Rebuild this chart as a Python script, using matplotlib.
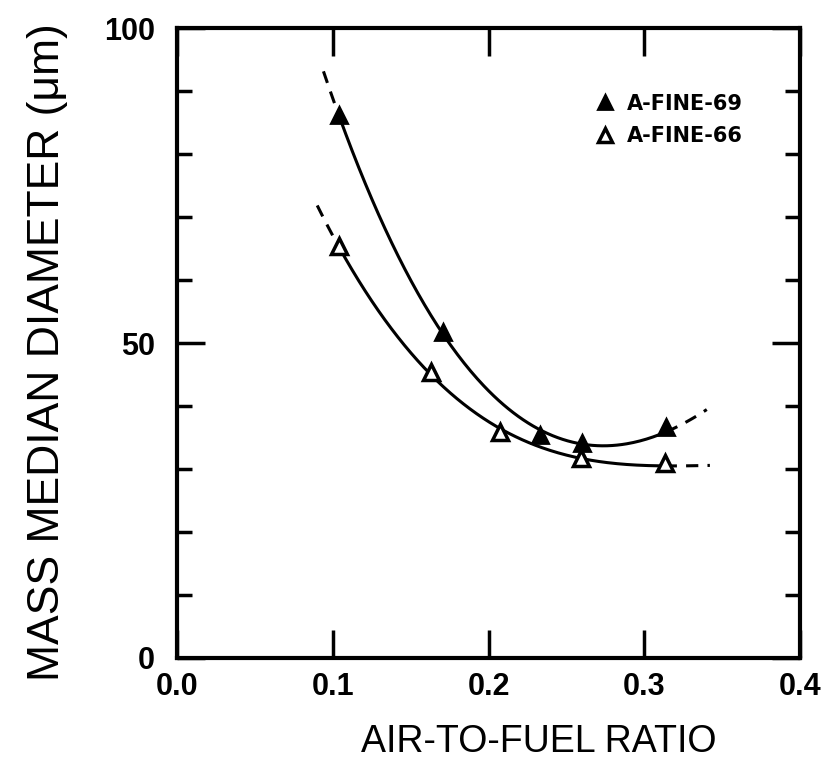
import numpy as np
import matplotlib
matplotlib.use("Agg")
import matplotlib.pyplot as plt
from matplotlib.ticker import MultipleLocator

plt.rcParams['font.family'] = ['Liberation Sans', 'DejaVu Sans']

# data
x69 = [0.104, 0.171, 0.233, 0.260, 0.314]
y69 = [86.2, 51.8, 35.4, 34.1, 36.7]
x66 = [0.104, 0.163, 0.207, 0.259, 0.313]
y66 = [65.5, 45.4, 35.9, 31.7, 31.0]
# ends of the dashed extensions (x, y)
ext69_x = [0.094, 0.340]
ext69_y = [93.0, 39.0]
ext66_x = [0.090, 0.342]
ext66_y = [71.6, 30.3]
labels = ['A-FINE-69', 'A-FINE-66']

fig = plt.figure(figsize=(8.31, 7.66), dpi=100)
ax = fig.add_axes([0.213, 0.141, 0.75, 0.822])

def draw_curve(xs, ys, ex, ey):
    allx = [ex[0]] + xs + [ex[1]]
    ally = [ey[0]] + ys + [ey[1]]
    p = np.polyfit(allx, ally, 3)
    xs_solid = np.linspace(xs[0], xs[-1], 200)
    ax.plot(xs_solid, np.polyval(p, xs_solid), color='black', lw=2.2)
    lo = np.linspace(ex[0], xs[0], 30)
    hi = np.linspace(xs[-1], ex[1], 30)
    ax.plot(lo, np.polyval(p, lo), color='black', lw=2.2, ls=(0, (4, 3)))
    ax.plot(hi, np.polyval(p, hi), color='black', lw=2.2, ls=(0, (4, 3)))

draw_curve(x69, y69, ext69_x, ext69_y)
draw_curve(x66, y66, ext66_x, ext66_y)

h1, = ax.plot(x69, y69, ls='none', marker='^', ms=12, mfc='black', mec='black', mew=2)
h2, = ax.plot(x66, y66, ls='none', marker='^', ms=11, mfc='white', mec='black', mew=2.5)

leg = ax.legend([h1, h2], labels, loc='upper left', bbox_to_anchor=(0.64, 0.926),
                frameon=False, handlelength=1.0, handletextpad=0.55, labelspacing=0.6,
                prop={'family': 'DejaVu Sans', 'weight': 'bold', 'size': 15})
for h in leg.legend_handles:
    h.set_markersize(10)

ax.set_xlim(0.0, 0.4)
ax.set_ylim(0, 100)
ax.set_xticks([0.0, 0.1, 0.2, 0.3, 0.4])
ax.set_xticklabels(['0.0', '0.1', '0.2', '0.3', '0.4'])
ax.yaxis.set_major_locator(MultipleLocator(50))
ax.yaxis.set_minor_locator(MultipleLocator(10))

ax.tick_params(axis='x', which='major', direction='in', length=20, width=2.5,
               top=True, bottom=True, pad=10, labelsize=22)
ax.tick_params(axis='y', which='major', direction='in', length=20, width=2.5,
               left=True, right=True, pad=16, labelsize=22)
ax.tick_params(axis='y', which='minor', direction='in', length=11, width=2.5,
               left=True, right=True)
for lab in ax.get_xticklabels() + ax.get_yticklabels():
    lab.set_fontweight('bold')

for s in ax.spines.values():
    s.set_linewidth(3.0)

ax.set_xlabel('AIR-TO-FUEL RATIO', fontsize=27)
ax.set_ylabel('MASS MEDIAN DIAMETER (\u03bcm)', fontsize=32)
ax.xaxis.set_label_coords(0.58, -0.105)
ax.yaxis.set_label_coords(-0.175, 0.486)

fig.savefig('out.png', dpi=100)
